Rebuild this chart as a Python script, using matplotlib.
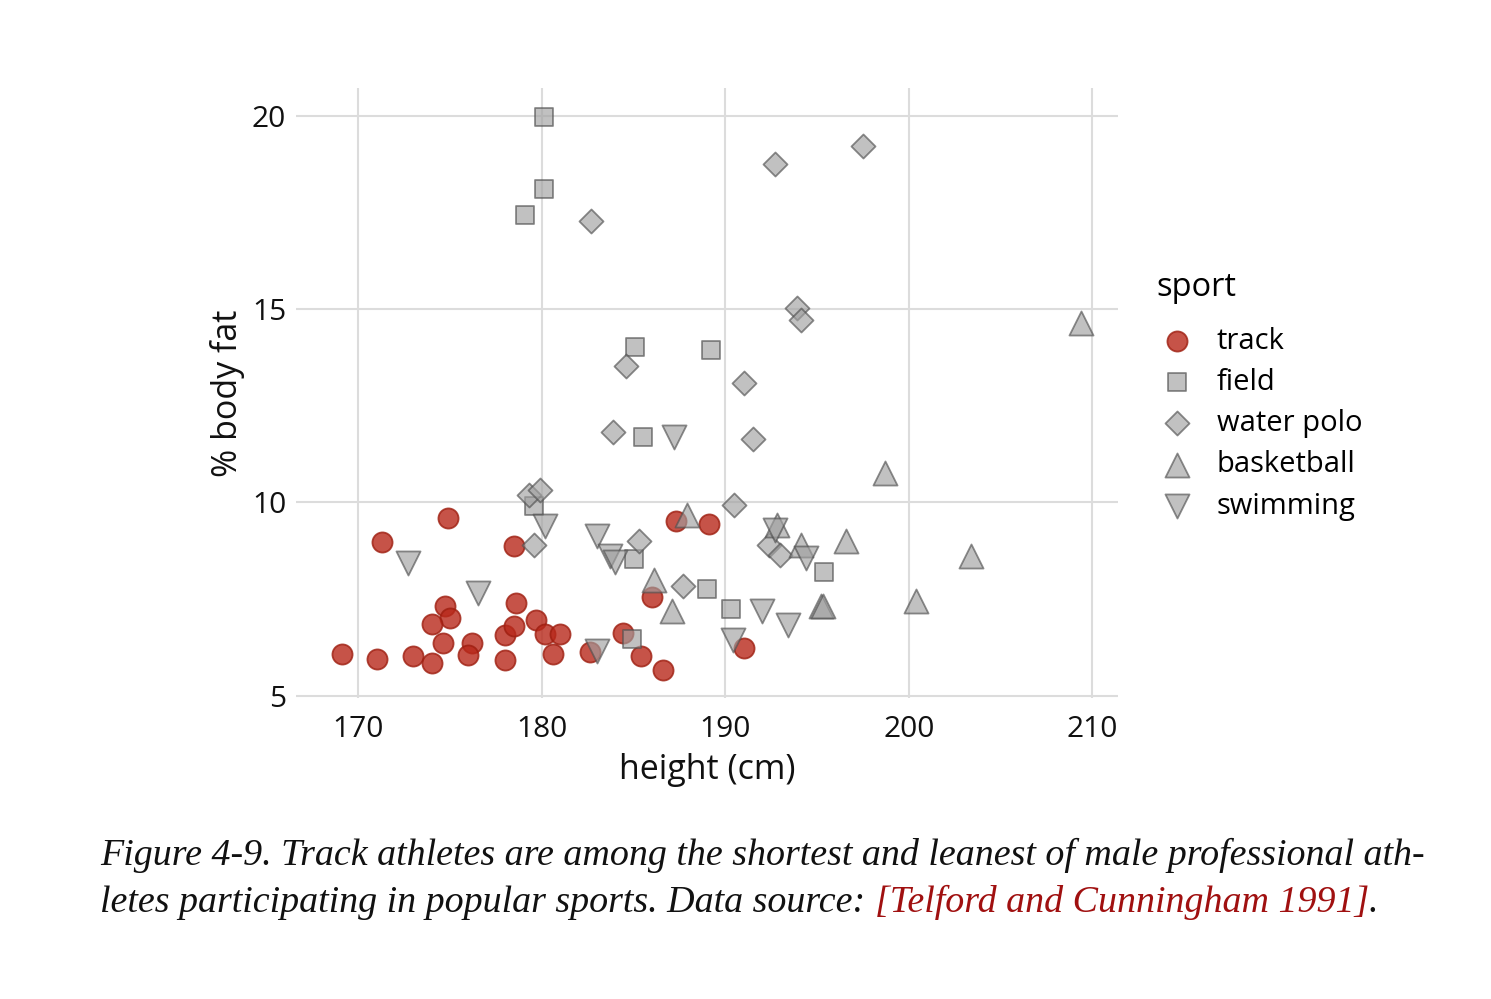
import matplotlib.pyplot as plt
import numpy as np

# ---- data (height in cm, % body fat) ----
track_h = [169.1, 171.0, 173.0, 174.0, 174.6, 174.7, 175.0, 174.0, 171.3, 174.9,
           176.2, 176.0, 178.0, 178.0, 178.5, 178.6, 178.5, 179.7, 180.2, 180.6,
           181.0, 182.6, 184.4, 186.0, 185.4, 186.6, 187.3, 189.1, 191.0]
track_f = [6.09, 5.96, 6.03, 5.84, 6.36, 7.33, 7.02, 6.85, 8.97, 9.59,
           6.36, 6.06, 6.56, 5.93, 8.86, 7.39, 6.79, 6.96, 6.60, 6.09,
           6.60, 6.14, 6.63, 7.55, 6.03, 5.66, 9.53, 9.44, 6.23]

field_h = [180.1, 180.1, 179.1, 185.1, 189.2, 185.5, 179.6, 185.0, 189.0, 190.3, 184.9, 195.4]
field_f = [19.97, 18.11, 17.44, 14.01, 13.95, 11.69, 9.90, 8.54, 7.76, 7.24, 6.47, 8.21]

polo_h = [192.7, 197.5, 182.7, 193.9, 194.1, 184.6, 191.0, 183.9, 191.5,
          179.3, 179.9, 179.6, 185.3, 187.7, 190.5, 192.4, 193.0]
polo_f = [18.75, 19.21, 17.27, 15.03, 14.72, 13.52, 13.09, 11.82, 11.65,
          10.20, 10.31, 8.91, 9.00, 7.84, 9.93, 8.91, 8.65]

bball_h = [209.4, 198.7, 203.4, 200.4, 196.6, 195.2, 195.3, 194.1, 192.8, 187.9, 186.1, 187.1]
bball_f = [14.65, 10.76, 8.62, 7.46, 8.99, 7.31, 7.33, 8.91, 9.42, 9.68, 8.00, 7.18]

swim_h = [172.7, 176.5, 180.2, 183.0, 183.7, 184.0, 183.0, 187.2, 190.4, 192.0, 193.4, 192.7, 194.4]
swim_f = [8.43, 7.66, 9.38, 9.14, 8.60, 8.47, 6.15, 11.69, 6.45, 7.18, 6.84, 9.29, 8.57]

x_ticks = [170, 180, 190, 200, 210]
y_ticks = [5, 10, 15, 20]

caption_1 = "Figure 4-9. Track athletes are among the shortest and leanest of male professional ath-"
caption_2 = ["letes participating in popular sports. Data source: ",
             "[Telford and Cunningham 1991]", "."]

plt.rcParams.update({
    "font.family": ["Open Sans", "DejaVu Sans"],
})

fig = plt.figure(figsize=(14.91, 9.99), dpi=100)
ax = fig.add_axes([0.1985, 0.3013, 0.5513, 0.6107])

red_face = "#B8281A"
red_edge = "#9E1E10"
gray_face = "#A0A0A0"
gray_edge = "#505050"

groups = [
    ("track", track_h, track_f, "o", 210, red_face, red_edge, 0.8),
    ("field", field_h, field_f, "s", 150, gray_face, gray_edge, 0.65),
    ("water polo", polo_h, polo_f, "D", 150, gray_face, gray_edge, 0.65),
    ("basketball", bball_h, bball_f, "^", 300, gray_face, gray_edge, 0.65),
    ("swimming", swim_h, swim_f, "v", 300, gray_face, gray_edge, 0.65),
]

handles = []
for name, xs, ys, mk, size, fc, ec, a in groups:
    h = ax.scatter(xs, ys, marker=mk, s=size, facecolor=fc, edgecolor=ec,
                   linewidth=1.3, alpha=a, label=name, zorder=3)
    handles.append(h)

ax.set_xlim(166.6, 211.4)
ax.set_ylim(4.94, 20.72)
ax.set_xticks(x_ticks)
ax.set_yticks(y_ticks)
ax.grid(True, color="#dcdcdc", linewidth=1.5)
ax.set_axisbelow(True)
for s in ax.spines.values():
    s.set_visible(False)
ax.tick_params(axis="both", length=0, labelsize=21.5, colors="#111111")
ax.tick_params(axis="x", pad=12)
ax.tick_params(axis="y", pad=7)

ax.set_xlabel("height (cm)", fontsize=24.5, labelpad=7, color="#111111")
ax.set_ylabel("% body fat", fontsize=24.5, labelpad=5, color="#111111")

leg = fig.legend(handles=handles, loc="upper left", bbox_to_anchor=(0.7661, 0.743),
                 frameon=False, fontsize=21, title="sport", title_fontsize=23.5,
                 scatterpoints=1, handlelength=1.4, handletextpad=0.65,
                 labelspacing=0.42, borderpad=0, alignment="left")
leg._legend_box.sep = 16

# caption, two lines with a red citation
fig.canvas.draw()
renderer = fig.canvas.get_renderer()
cap_kw = dict(fontsize=27.4, family="Liberation Serif", style="italic", va="baseline")
fig.text(100 / 1491, 1 - 865 / 999, caption_1, color="#111111", **cap_kw)
x0 = 100 / 1491
y2 = 1 - 912 / 999
for piece, col in zip(caption_2, ["#111111", "#A01010", "#111111"]):
    t = fig.text(x0, y2, piece, color=col, **cap_kw)
    bb = t.get_window_extent(renderer=renderer)
    x0 = fig.transFigure.inverted().transform((bb.x1, bb.y0))[0]

fig.savefig("out.png", dpi=100, facecolor="white")
